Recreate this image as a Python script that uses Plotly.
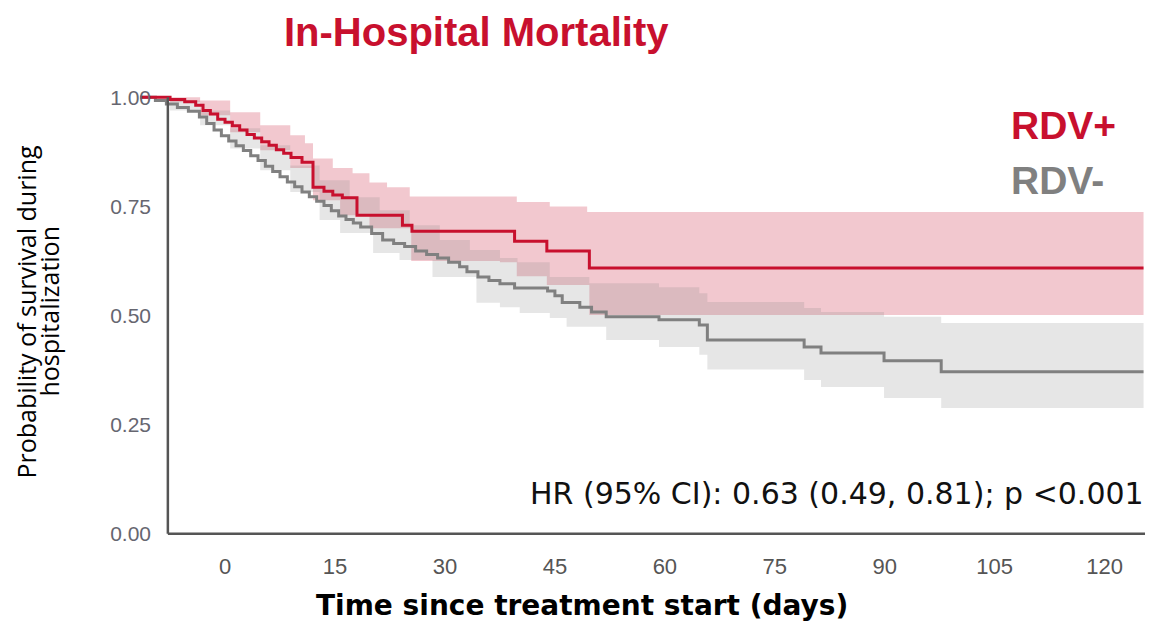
import plotly.graph_objects as go

# ---------------- data (days, survival probability) ----------------
rdv_pos_t = [-11.6, -7.5, -5.5, -4.0, -3.0, -2.0, -1.0, 0.0, 1.0, 2.0, 3.0, 4.0, 5.0, 6.0,
             7.0, 8.0, 9.0, 10.5, 12.0, 13.5, 14.7, 16.0, 18.0, 24.2, 25.5, 39.5, 43.9, 49.7, 125.3]
rdv_pos_s = [1.000, 0.995, 0.990, 0.982, 0.970, 0.962, 0.950, 0.943, 0.935, 0.925, 0.915, 0.907, 0.898, 0.890,
             0.880, 0.872, 0.862, 0.851, 0.794, 0.785, 0.776, 0.770, 0.730, 0.707, 0.693, 0.670, 0.648, 0.609, 0.609]

rdv_pos_up_t = [-11.6, -3.4, 0.7, 4.8, 8.9, 10.9, 12.0, 14.7, 17.4, 19.7, 22.1, 25.2, 39.8, 44.3, 49.4, 125.3]
rdv_pos_up_s = [1.000, 0.993, 0.966, 0.936, 0.913, 0.895, 0.860, 0.838, 0.826, 0.805, 0.794, 0.773, 0.760, 0.750, 0.737, 0.737]
rdv_pos_lo_t = [-11.6, -7.5, -3.4, 0.7, 4.8, 8.9, 12.0, 15.7, 19.7, 25.4, 37.5, 39.8, 43.9, 49.7, 125.3]
rdv_pos_lo_s = [0.998, 0.989, 0.959, 0.920, 0.879, 0.838, 0.764, 0.730, 0.700, 0.625, 0.622, 0.590, 0.570, 0.501, 0.501]

rdv_neg_t = [-11.6, -9.5, -8.0, -6.5, -5.0, -3.5, -2.5, -1.5, -0.5, 0.5, 1.5, 2.5, 3.5, 4.5, 5.5, 6.5,
             7.5, 8.5, 9.5, 10.5, 11.5, 12.5, 13.5, 14.5, 15.5, 16.5, 17.5, 18.5, 20.0, 21.5, 23.0,
             24.5, 26.0, 27.5, 29.0, 30.5, 32.0, 33.0, 34.5, 36.0, 37.5, 39.5, 44.0, 45.0, 46.0, 48.4,
             50.0, 52.0, 59.2, 64.7, 65.8, 79.0, 81.3, 89.9, 97.7, 125.3]
rdv_neg_s = [1.000, 0.993, 0.985, 0.977, 0.968, 0.955, 0.940, 0.925, 0.912, 0.900, 0.889, 0.878, 0.866, 0.855, 0.842, 0.830,
             0.818, 0.806, 0.795, 0.783, 0.772, 0.762, 0.752, 0.740, 0.728, 0.720, 0.712, 0.703, 0.688, 0.673, 0.665,
             0.658, 0.648, 0.640, 0.632, 0.622, 0.612, 0.600, 0.588, 0.580, 0.573, 0.563, 0.556, 0.545, 0.530, 0.519,
             0.508, 0.497, 0.490, 0.478, 0.444, 0.428, 0.414, 0.396, 0.371, 0.371]

rdv_neg_up_t = [-11.6, -7.5, -3.4, 0.7, 4.8, 8.9, 12.9, 17.0, 21.1, 25.2, 29.3, 33.4, 37.5, 39.9, 44.3, 49.7,
                59.2, 64.7, 65.8, 79.0, 81.3, 89.9, 97.7, 125.3]
rdv_neg_up_s = [1.000, 0.993, 0.970, 0.929, 0.890, 0.844, 0.810, 0.771, 0.741, 0.707, 0.673, 0.650, 0.632, 0.622, 0.588, 0.574,
                0.565, 0.551, 0.531, 0.517, 0.508, 0.497, 0.483, 0.483]
rdv_neg_lo_t = [-11.6, -7.5, -3.4, 0.7, 4.8, 8.9, 12.9, 15.7, 20.2, 23.8, 28.3, 34.3, 37.5, 40.2, 44.3, 46.6,
                52.0, 59.2, 64.7, 65.8, 79.0, 81.3, 89.9, 97.7, 125.3]
rdv_neg_lo_s = [0.998, 0.970, 0.936, 0.883, 0.833, 0.783, 0.719, 0.689, 0.643, 0.627, 0.588, 0.529, 0.519, 0.506, 0.494, 0.474,
                0.444, 0.428, 0.410, 0.376, 0.352, 0.336, 0.311, 0.288, 0.288]

x_ticks = [0, 15, 30, 45, 60, 75, 90, 105, 120]
y_ticks = [0, 0.25, 0.5, 0.75, 1.0]
y_ticktext = ["0.00", "0.25", "0.50", "0.75", "1.00"]

RED = "#C8102E"
GRAY = "#808080"


def steps(t, s):
    xs, ys = [t[0]], [s[0]]
    for i in range(1, len(t)):
        xs += [t[i], t[i]]
        ys += [s[i - 1], s[i]]
    return xs, ys


def band(tu, su, tl, sl):
    xu, yu = steps(tu, su)
    xl, yl = steps(tl, sl)
    return xu + xl[::-1], yu + yl[::-1]


fig = go.Figure()

bx, by = band(rdv_pos_up_t, rdv_pos_up_s, rdv_pos_lo_t, rdv_pos_lo_s)
fig.add_trace(go.Scatter(x=bx, y=by, fill="toself", fillcolor="rgba(200,16,46,0.23)",
                         line=dict(width=0), mode="lines", hoverinfo="skip", showlegend=False))
bx, by = band(rdv_neg_up_t, rdv_neg_up_s, rdv_neg_lo_t, rdv_neg_lo_s)
fig.add_trace(go.Scatter(x=bx, y=by, fill="toself", fillcolor="rgba(128,128,128,0.2)",
                         line=dict(width=0), mode="lines", hoverinfo="skip", showlegend=False))

fig.add_trace(go.Scatter(x=rdv_neg_t, y=rdv_neg_s, mode="lines", line=dict(color=GRAY, width=3, shape="hv"),
                         name="RDV-", showlegend=False))
fig.add_trace(go.Scatter(x=rdv_pos_t, y=rdv_pos_s, mode="lines", line=dict(color=RED, width=3, shape="hv"),
                         name="RDV+", showlegend=False))

# axis lines
AX0 = -7.8
fig.add_shape(type="line", x0=AX0, x1=125.5, y0=0, y1=0, xref="x", yref="y",
              line=dict(color="#555555", width=2.5))
fig.add_shape(type="line", x0=AX0, x1=AX0, y0=0, y1=1.0, xref="x", yref="y",
              line=dict(color="#555555", width=2.5))

fig.update_xaxes(range=[-11.6, 125.5], tickvals=x_ticks, showgrid=False, zeroline=False, showline=False,
                 ticks="", ticklabelstandoff=13,
                 tickfont=dict(family="Liberation Sans Narrow, Arial Narrow, Liberation Sans", size=22, color="#555555"))
fig.update_yaxes(range=[-0.01, 1.01], tickvals=y_ticks, ticktext=y_ticktext, showgrid=False, zeroline=False,
                 showline=False, ticks="", ticklabelstandoff=-12,
                 tickfont=dict(family="Liberation Sans, Arial", size=21, color="#666670"))

ann = [
    dict(text="<b>In-Hospital Mortality</b>", x=0.335, y=1.137, font=dict(family="Liberation Sans, Arial", size=40, color=RED),
         xanchor="center"),
    dict(text="<b>RDV+</b>", x=0.866, y=0.928, font=dict(family="Liberation Sans, Arial", size=39, color=RED),
         xanchor="left"),
    dict(text="<b>RDV-</b>", x=0.866, y=0.804, font=dict(family="Liberation Sans, Arial", size=39, color=GRAY),
         xanchor="left"),
    dict(text="HR (95% CI): 0.63 (0.49, 0.81); p <0.001", x=1.0, y=0.101,
         font=dict(family="DejaVu Sans", size=30, color="#111111"), xanchor="right"),
    dict(text="<b>Time since treatment start (days)</b>", x=0.44, y=-0.151,
         font=dict(family="DejaVu Sans", size=28, color="#000000"), xanchor="center"),
    dict(text="Probability of survival during", x=-0.1134, y=0.509, textangle=-90,
         font=dict(family="Open Sans", size=25, color="#000000"), xanchor="center"),
    dict(text="hospitalization", x=-0.0905, y=0.509, textangle=-90,
         font=dict(family="Open Sans", size=25, color="#000000"), xanchor="center"),
]
for a in ann:
    a.setdefault("yanchor", "middle")
    fig.add_annotation(xref="paper", yref="paper", showarrow=False, borderpad=0, **a)

fig.update_layout(width=1149, height=617, margin=dict(l=132, r=12, t=85, b=87),
                  plot_bgcolor="white", paper_bgcolor="white", showlegend=False)

fig.write_html("out.html")
